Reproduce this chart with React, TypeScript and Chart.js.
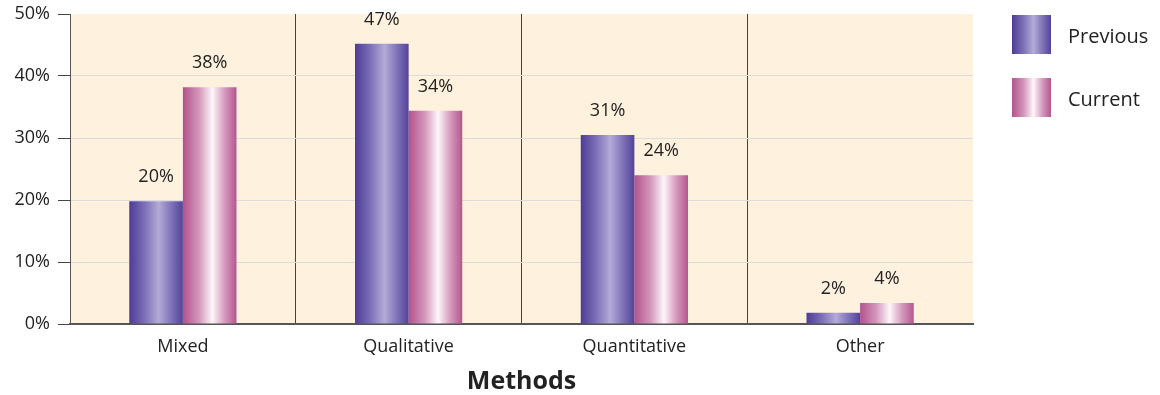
import React, { useEffect, useRef } from "react";
import { Chart, registerables } from "chart.js";

Chart.register(...registerables);

const categories = ["Mixed", "Qualitative", "Quantitative", "Other"];
const seriesNames = ["Previous", "Current"];
const previousValues = [19.8, 45.2, 30.5, 1.8];
const currentValues = [38.2, 34.4, 24.0, 3.4];
const previousLabels = ["20%", "47%", "31%", "2%"];
const currentLabels = ["38%", "34%", "24%", "4%"];
const yTicks = [0, 10, 20, 30, 40, 50];
const axisTitle = "Methods";

const FONT = "'Open Sans', 'Noto Sans', sans-serif";

const gradStops = [
  [
    [0, "#4d3c96"],
    [0.28, "#7b6eb6"],
    [0.55, "#b3abd7"],
    [0.8, "#7c6fb6"],
    [1, "#54429a"],
  ],
  [
    [0, "#b3528d"],
    [0.3, "#d496bb"],
    [0.55, "#fdf6fa"],
    [0.78, "#d59abd"],
    [1, "#b5568f"],
  ],
];

function makeGradient(ctx: CanvasRenderingContext2D, x0: number, x1: number, idx: number) {
  const g = ctx.createLinearGradient(x0, 0, x1, 0);
  for (const [o, c] of gradStops[idx]) g.addColorStop(o as number, c as string);
  return g;
}

const bgPlugin = {
  id: "bgPlugin",
  beforeDraw(chart: any) {
    const { ctx, chartArea } = chart;
    ctx.save();
    ctx.fillStyle = "#fef2df";
    ctx.fillRect(chartArea.left, chartArea.top, chartArea.right - chartArea.left, chartArea.bottom - chartArea.top);
    ctx.restore();
  },
  beforeDatasetsDraw(chart: any) {
    const ctx = chart.ctx;
    chart.data.datasets.forEach((_: any, di: number) => {
      const meta = chart.getDatasetMeta(di);
      meta.data.forEach((el: any) => {
        const x0 = el.x - el.width / 2;
        const x1 = el.x + el.width / 2;
        el.options.backgroundColor = makeGradient(ctx, x0, x1, di);
      });
    });
  },
  afterDatasetsDraw(chart: any) {
    const ctx = chart.ctx;
    const labelSets = [previousLabels, currentLabels];
    ctx.save();
    ctx.font = `18px ${FONT}`;
    ctx.fillStyle = "#222222";
    ctx.textAlign = "center";
    ctx.textBaseline = "middle";
    chart.data.datasets.forEach((_: any, di: number) => {
      const meta = chart.getDatasetMeta(di);
      meta.data.forEach((el: any, i: number) => {
        ctx.fillText(labelSets[di][i], el.x, el.y - 24);
      });
    });
    ctx.restore();
  },
  afterDraw(chart: any) {
    const ctx = chart.ctx;
    const x = chart.chartArea.right + 39;
    ctx.save();
    seriesNames.forEach((name, i) => {
      const y = 15 + i * 63;
      ctx.fillStyle = makeGradient(ctx, x, x + 39, i);
      ctx.fillRect(x, y, 39, 39);
      ctx.fillStyle = "#222222";
      ctx.font = `20px ${FONT}`;
      ctx.textAlign = "left";
      ctx.textBaseline = "middle";
      ctx.fillText(name, x + 56, y + 22);
    });
    ctx.restore();
  },
};

export default function App() {
  const ref = useRef<HTMLCanvasElement | null>(null);
  useEffect(() => {
    document.body.style.margin = "0";
    if (!ref.current) return;
    const chart = new Chart(ref.current, {
      type: "bar",
      data: {
        labels: categories,
        datasets: [
          { label: seriesNames[0], data: previousValues, backgroundColor: () => "#4d3c96" },
          { label: seriesNames[1], data: currentValues, backgroundColor: () => "#b3528d" },
        ],
      },
      plugins: [bgPlugin],
      options: {
        responsive: false,
        animation: false,
        layout: { padding: { top: 14, right: 187, bottom: 0, left: 0 } },
        datasets: {
          bar: { barPercentage: 1, categoryPercentage: 0.475, borderWidth: 0 },
        },
        plugins: {
          legend: { display: false },
          tooltip: { enabled: false },
        },
        scales: {
          x: {
            afterFit: (s: any) => {
              s.height = 71;
              s.paddingLeft = 0;
              s.paddingRight = 0;
            },
            grid: {
              offset: true,
              drawTicks: false,
              color: (c: any) => (c.type === "tick" && c.index > 0 ? "#444444" : "rgba(0,0,0,0)"),
              lineWidth: 1,
            },
            border: { display: true, color: "#555555", width: 2 },
            ticks: {
              color: "#222222",
              padding: 12,
              font: { family: FONT, size: 18 },
            },
            title: {
              display: true,
              text: axisTitle,
              color: "#222222",
              font: { family: FONT, size: 25, weight: "bold", lineHeight: 1.05 },
              padding: { top: 0, bottom: 0 },
            },
          },
          y: {
            min: 0,
            max: 50,
            afterFit: (s: any) => {
              s.width = 70;
              s.paddingTop = 0;
              s.paddingBottom = 0;
            },
            afterBuildTicks: (s: any) => {
              s.ticks = yTicks.map((v) => ({ value: v }));
            },
            grid: {
              color: (c: any) =>
                c.tick && (c.tick.value === 0 || c.tick.value === 50) ? "rgba(0,0,0,0)" : "#dcdcdc",
              tickColor: "#444444",
              tickLength: 12,
              lineWidth: 1,
            },
            border: { display: true, color: "#555555", width: 1 },
            ticks: {
              color: "#222222",
              padding: 8,
              font: { family: FONT, size: 18 },
              callback: (v: any) => `${v}%`,
            },
          },
        },
      },
    });
    return () => chart.destroy();
  }, []);
  return (
    <div style={{ width: 1160, height: 395, background: "#ffffff" }}>
      <canvas ref={ref} width={1160} height={395} />
    </div>
  );
}
